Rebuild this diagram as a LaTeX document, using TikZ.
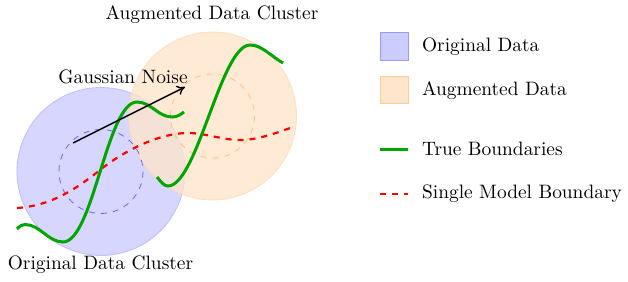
\documentclass[tikz,border=0pt]{standalone}
\usetikzlibrary{arrows.meta}
\begin{document}
\begin{tikzpicture}[x=0.5pt,y=-0.5pt,
  lbl/.style={inner sep=0pt,font=\fontsize{9.7}{11.6}\selectfont},
  origcl/.style={fill=blue!20,draw=blue!30,opacity=0.8,line width=0.4pt},
  augcl/.style={fill=orange!20,draw=orange!30,opacity=0.8,line width=0.4pt},
  origin/.style={draw=blue!60,dashed,line width=0.4pt},
  augin/.style={draw=orange!50,dashed,line width=0.4pt},
  trueb/.style={draw=green!65!black,line width=1.5pt},
  singleb/.style={draw=red,dashed,line width=1.1pt},
  origsq/.style={fill=blue!20,draw=blue!40,line width=0.5pt},
  augsq/.style={fill=orange!20,draw=orange!40,line width=0.5pt}]
\useasboundingbox (0,0) rectangle (628,282);
% clusters
\coordinate (oc) at (101,171.5);
\coordinate (ac) at (212.5,116);
\path[origcl] (oc) circle[radius=84];
\path[augcl] (ac) circle[radius=84];
\draw[origin] (oc) circle[radius=42];
\draw[augin] (ac) circle[radius=42];
% single model boundary
\draw[singleb] (17,208) .. controls (50,206) and (75,190) .. (100,170)
  .. controls (125,150) and (160,133) .. (188,133)
  .. controls (205,133) and (222,140) .. (240,140)
  .. controls (258,140) and (276,133) .. (293,127);
% true boundaries
\draw[trueb] (17,229) .. controls (20,226) and (22,224.5) .. (25,224.5)
  .. controls (40,224.5) and (48,242) .. (63,242)
  .. controls (93,242) and (107,102) .. (137,102)
  .. controls (151,102) and (158,117) .. (172,117)
  .. controls (177,117) and (180,115) .. (184,112);
\draw[trueb] (157,177) .. controls (161,182) and (164,186) .. (168,186)
  .. controls (197,186) and (221,45) .. (250,45)
  .. controls (262,45) and (272,57) .. (283,63);
% arrow
\coordinate (as) at (73,143);
\coordinate (ae) at (185,87);
\draw[-{To[length=4pt,width=5pt]},line width=0.7pt] (as) -- (ae);
% labels
\node[lbl,anchor=base] (gn) at (123,84) {Gaussian Noise};
\node[lbl,anchor=base] (adc) at (212,19.5) {Augmented Data Cluster};
\node[lbl,anchor=base] (odc) at (100.5,270) {Original Data Cluster};
% legend
\path[origsq] (380,32.5) rectangle (408.5,60.5);
\path[augsq] (380,76.5) rectangle (408.5,104);
\coordinate (g1) at (380,149.3);
\coordinate (g2) at (408,149.3);
\draw[trueb] (g1) -- (g2);
\coordinate (r1) at (380,194);
\coordinate (r2) at (408,194);
\draw[singleb] (r1) -- (r2);
\node[lbl,anchor=base west] (l1) at (421.7,52) {Original Data};
\node[lbl,anchor=base west] (l2) at (421.7,96) {Augmented Data};
\node[lbl,anchor=base west] (l3) at (421.7,156) {True Boundaries};
\node[lbl,anchor=base west] (l4) at (421.7,199) {Single Model Boundary};
\end{tikzpicture}
\end{document}
